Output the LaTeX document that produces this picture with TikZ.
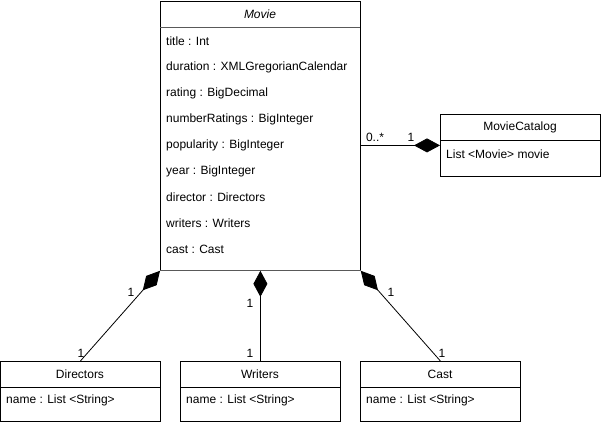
\documentclass[tikz,border=0pt]{standalone}
\usepackage{fontspec}
\setmainfont{Liberation Sans}
\usetikzlibrary{arrows.meta}
\begin{document}
\begin{tikzpicture}[x=1pt,y=-1pt,
  box/.style={draw=black,line width=0.8pt,fill=white,inner sep=0pt,anchor=north west},
  txt/.style={font=\fontsize{12}{14}\selectfont,inner sep=0pt,anchor=west},
  ctxt/.style={font=\fontsize{12}{14}\selectfont,inner sep=0pt},
  lbl/.style={font=\fontsize{12}{14}\selectfont,inner sep=0pt},
  comp/.style={draw=black,line width=0.8pt,-{Diamond[length=26pt,width=14pt,fill=black]}}]
\useasboundingbox (0,0) rectangle (601,422);
% Movie
\node[box,minimum width=200pt,minimum height=269pt] (M) at (160,1) {};
\draw[gray!70!black,line width=0.8pt] (160,27) -- (360,27);
\draw[gray!70!black,line width=0.8pt] (M.south west) -- (M.south east);
\node[ctxt,font=\fontsize{12}{14}\selectfont\itshape] (Mt) at (260,14) {Movie};
\node[txt] (a1) at (166,41) {title : Int};
\node[txt] (a2) at (166,67) {duration : XMLGregorianCalendar};
\node[txt] (a3) at (166,93) {rating : BigDecimal};
\node[txt] (a4) at (166,119) {numberRatings : BigInteger};
\node[txt] (a5) at (166,145) {popularity : BigInteger};
\node[txt] (a6) at (166,171) {year : BigInteger};
\node[txt] (a7) at (166,197) {director : Directors};
\node[txt] (a8) at (166,223) {writers : Writers};
\node[txt] (a9) at (166,249) {cast : Cast};
% MovieCatalog
\node[box,minimum width=160pt,minimum height=62pt] (MC) at (440,114) {};
\draw[black,line width=0.8pt] (440,140) -- (600,140);
\node[ctxt] (MCt) at (520,127) {MovieCatalog};
\node[txt] (MCa) at (446,154) {List <Movie> movie};
% Directors
\node[box,minimum width=160pt,minimum height=60pt] (D) at (0,361) {};
\draw[black,line width=0.8pt] (0,387) -- (160,387);
\node[ctxt] (Dt) at (80,374) {Directors};
\node[txt] (Da) at (6,400) {name : List <String>};
% Writers
\node[box,minimum width=160pt,minimum height=60pt] (W) at (180,361) {};
\draw[black,line width=0.8pt] (180,387) -- (340,387);
\node[ctxt] (Wt) at (260,374) {Writers};
\node[txt] (Wa) at (186,400) {name : List <String>};
% Cast
\node[box,minimum width=160pt,minimum height=60pt] (C) at (360,361) {};
\draw[black,line width=0.8pt] (360,387) -- (520,387);
\node[ctxt] (Ct) at (440,374) {Cast};
\node[txt] (Ca) at (366,400) {name : List <String>};
% connectors
\draw[comp] (MC.west -| M.east) -- (MC.west);
\draw[comp] (D.north) -- (M.south west);
\draw[comp] (W.north) -- (M.south);
\draw[comp] (C.north) -- (M.south east);
% multiplicities
\node[lbl] (l1) at (375,137) {0..*};
\node[lbl] (l2) at (411,137) {1};
\node[lbl] (l3) at (131,292) {1};
\node[lbl] (l4) at (81,353) {1};
\node[lbl] (l5) at (250,303) {1};
\node[lbl] (l6) at (250,353) {1};
\node[lbl] (l7) at (391,292) {1};
\node[lbl] (l8) at (442,353) {1};
\end{tikzpicture}
\end{document}
